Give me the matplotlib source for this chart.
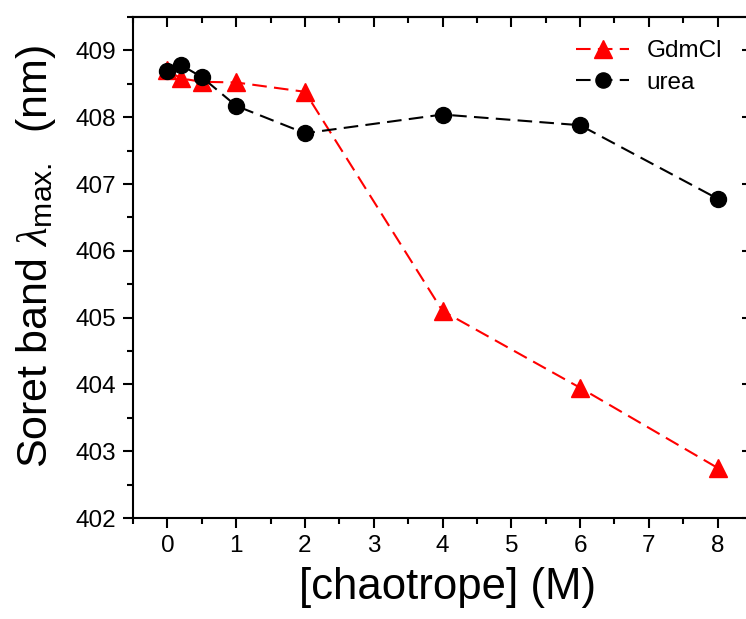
import matplotlib
matplotlib.use("Agg")
import matplotlib.pyplot as plt
from matplotlib.ticker import MultipleLocator

# Chaotrope concentrations (M)
conc = [0, 0.2, 0.5, 1, 2, 4, 6, 8]

# Soret band maximum (nm)
gdmcl = [408.70, 408.58, 408.53, 408.52, 408.38, 405.10, 403.95, 402.75]
urea = [408.69, 408.78, 408.60, 408.17, 407.76, 408.04, 407.88, 406.78]

series_labels = ["GdmCl", "urea"]
xlabel = "[chaotrope] (M)"
ylabel = r"Soret band $\lambda_{\mathregular{max.}}$  (nm)"

plt.rcParams["font.family"] = ["Liberation Sans", "DejaVu Sans"]
plt.rcParams["mathtext.fontset"] = "custom"
plt.rcParams["mathtext.rm"] = "Liberation Sans"
plt.rcParams["mathtext.it"] = "Liberation Serif:italic"

fig = plt.figure(figsize=(7.46, 6.19), dpi=100)
W, H = 746, 619
left, right, top, bottom = 133, 752, 17, 518
ax = fig.add_axes([left / W, 1 - bottom / H, (right - left) / W, (bottom - top) / H])

dash = (0, (7, 3.5))
ax.plot(conc, gdmcl, ls=dash, lw=1.5, color="#ff0000",
        marker="^", ms=13.5, mec="#ff0000", mfc="#ff0000", label=series_labels[0], zorder=3)
ax.plot(conc, urea, ls=dash, lw=1.5, color="black",
        marker="o", ms=11.5, mec="black", mfc="black", label=series_labels[1], zorder=4)

ax.set_xlim(-0.5, 8.5)
ax.set_ylim(402, 409.5)
ax.xaxis.set_major_locator(MultipleLocator(1))
ax.xaxis.set_minor_locator(MultipleLocator(0.5))
ax.yaxis.set_major_locator(MultipleLocator(1))
ax.yaxis.set_minor_locator(MultipleLocator(0.5))

for s in ax.spines.values():
    s.set_linewidth(1.5)

ax.tick_params(axis="both", which="both", width=1.5, labelsize=17.5, pad=5)
ax.tick_params(axis="both", which="major", length=7.2)
ax.tick_params(axis="both", which="minor", length=4)
ax.tick_params(axis="x", which="both", direction="out", top=False)
ax.tick_params(axis="y", which="both", direction="out", right=False)

# Inward ticks on the mirrored top and right axes
sec_x = ax.secondary_xaxis("top")
sec_x.xaxis.set_major_locator(MultipleLocator(1))
sec_x.xaxis.set_minor_locator(MultipleLocator(0.5))
sec_x.tick_params(which="both", direction="in", width=1.5, labeltop=False)
sec_x.tick_params(which="major", length=7.2)
sec_x.tick_params(which="minor", length=4)
sec_x.spines["top"].set_linewidth(1.5)

sec_y = ax.secondary_yaxis("right")
sec_y.yaxis.set_major_locator(MultipleLocator(1))
sec_y.yaxis.set_minor_locator(MultipleLocator(0.5))
sec_y.tick_params(which="both", direction="in", width=1.5, labelright=False)
sec_y.tick_params(which="major", length=7.2)
sec_y.tick_params(which="minor", length=4)

ax.set_xlabel(xlabel, fontsize=31.5, va="center")
ax.xaxis.set_label_coords((448 - left) / (right - left), -(588 - bottom) / (bottom - top))

fig.text(36 / W, 1 - 468 / H, ylabel, rotation=90, fontsize=31,
         ha="center", va="bottom")

ax.legend(loc="upper left", bbox_to_anchor=(576 / W, 1 - 40 / H),
          bbox_transform=fig.transFigure, frameon=False, fontsize=17.5,
          handlelength=2.2, handletextpad=0.7, borderpad=0, borderaxespad=0,
          labelspacing=0.4, numpoints=1, markerscale=0.95)

fig.savefig("out.png", dpi=100)
